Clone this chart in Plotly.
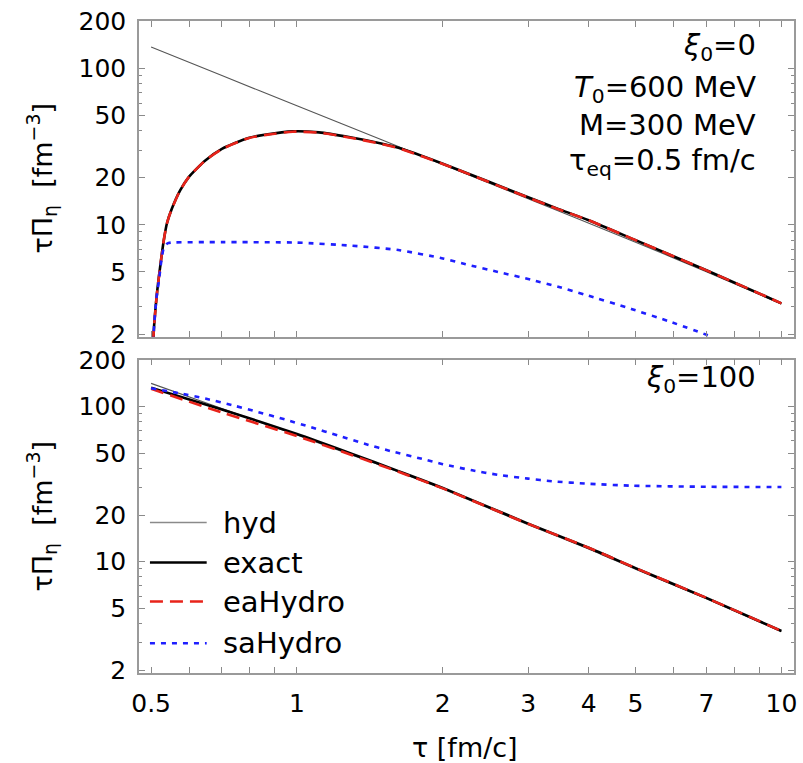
import plotly.graph_objects as go

# ---------------- data ----------------
# Top panel: xi0 = 0
tau_top_hyd = [0.5, 0.7, 1.0, 1.5, 2.0, 3.0, 5.0, 7.0, 10.0]
hyd_top = [137, 90, 57.7, 34.8, 24.3, 14.7, 7.75, 5.02, 3.12]

tau_top_exact = [0.5005, 0.503, 0.506, 0.514, 0.523, 0.531, 0.539, 0.552, 0.574, 0.598,
                 0.647, 0.70, 0.794, 0.864, 0.98, 1.11, 1.28, 1.5, 1.62, 2.0, 3.0,
                 3.46, 4.0, 5.0, 7.0, 10.0]
exact_top = [0.3, 1.0, 2.01, 3.62, 5.64, 7.94, 10.2, 12.7, 16.6, 20.2,
             25.8, 30.6, 35.9, 37.8, 39.6, 39.0, 36.4, 33.0, 31.1, 24.6, 15.0,
             12.65, 10.7, 7.98, 5.12, 3.15]
ea_top = [0.3, 1.0, 2.01, 3.62, 5.64, 7.94, 10.2, 12.7, 16.6, 20.2,
          25.8, 30.5, 35.8, 37.6, 39.4, 38.8, 36.2, 32.8, 30.9, 24.5, 14.95,
          12.6, 10.7, 7.98, 5.12, 3.15]

tau_top_sa = [0.5005, 0.506, 0.513, 0.519, 0.525, 0.531, 0.54, 0.55, 0.7, 1.0, 1.3, 1.62,
              2.0, 2.23, 2.6, 3.05, 3.46, 3.93, 4.9, 5.83, 7.05]
sa_top = [0.3, 2.0, 3.4, 4.4, 5.9, 7.1, 7.6, 7.7, 7.75, 7.7, 7.35, 6.9,
          6.1, 5.6, 5.0, 4.45, 4.02, 3.58, 2.9, 2.43, 1.97]

# Bottom panel: xi0 = 100
tau_bot = [0.5, 0.7, 1.0, 1.3, 1.615, 2.0, 3.0, 4.0, 5.0, 7.0, 10.0]
hyd_bot = [141, 97, 65.5, 48.6, 38.0, 29.4, 17.3, 12.1, 8.95, 5.78, 3.55]
exact_bot = [132, 95.8, 66.5, 49.5, 38.5, 29.9, 17.6, 12.3, 9.1, 5.85, 3.58]
ea_bot = [130, 91.5, 64.5, 48.6, 38.1, 29.7, 17.55, 12.3, 9.1, 5.85, 3.58]

tau_bot_sa = [0.5, 0.57, 0.647, 0.74, 0.833, 0.945, 1.07, 1.216, 1.38, 1.565,
              1.812, 2.0, 2.3, 2.6, 3.0, 3.36, 4.0, 4.9, 7.0, 10.0]
sa_bot = [131, 122, 112.5, 101.5, 92, 82.5, 73.5, 65.0, 57.5, 51.5,
          46.0, 42.5, 38.8, 36.3, 34.3, 33.0, 31.8, 30.9, 30.4, 30.3]

series_names = ["hyd", "exact", "eaHydro", "saHydro"]

x_tickvals = [0.5, 0.6, 0.7, 0.8, 0.9, 1, 2, 3, 4, 5, 6, 7, 8, 9, 10]
x_ticktext = ["0.5", "", "", "", "", "1", "2", "3", "4", "5", "", "7", "", "", "10"]
y_tickvals = [2, 5, 10, 20, 50, 100, 200]
y_ticktext = ["2", "5", "10", "20", "50", "100", "200"]
y_minor = [3, 4, 6, 7, 8, 9, 30, 40, 60, 70, 80, 90]

# ---------------- styles ----------------
FONT = "DejaVu Sans"
styles = {
    "hyd": dict(color="#555555", width=1.1),
    "exact": dict(color="#000000", width=2.6),
    "eaHydro": dict(color="#e8231a", width=2.6, dash="13px,7px"),
    "saHydro": dict(color="#1f1fff", width=2.6, dash="5px,6px"),
}

W, H = 803, 763
L, R, T, B = 139, 6, 21, 90
pw, ph = W - L - R, H - T - B

def px_x(px):
    return (px - L) / pw

def px_y(py):
    return (H - B - py) / ph

fig = go.Figure()

panels = [
    ("x", "y", tau_top_hyd, hyd_top, tau_top_exact, exact_top, tau_top_exact, ea_top, tau_top_sa, sa_top),
    ("x2", "y2", tau_bot, hyd_bot, tau_bot, exact_bot, tau_bot, ea_bot, tau_bot_sa, sa_bot),
]
for xa, ya, th, yh, te, ye, tea, yea, ts, ys in panels:
    for name, tx, ty in [("hyd", th, yh), ("exact", te, ye), ("eaHydro", tea, yea), ("saHydro", ts, ys)]:
        fig.add_trace(go.Scatter(x=tx, y=ty, mode="lines", name=name,
                                 line=dict(styles[name], shape="spline", smoothing=0.6),
                                 xaxis=xa, yaxis=ya, showlegend=False, hoverinfo="skip"))

axis_common = dict(type="log", showgrid=False, zeroline=False, showline=True,
                   linecolor="#9a9a9a", linewidth=1.5, mirror="allticks",
                   ticks="inside", tickcolor="#8a8a8a", tickwidth=1.2,
                   tickfont=dict(family=FONT, size=25, color="black"))

xr = [-0.326, 1.026]
yr = [0.283, 2.303]
top_dom = [px_y(337), 1.0]
bot_dom = [0.0, px_y(359.5)]

fig.update_layout(
    width=W, height=H, margin=dict(l=L, r=R, t=T, b=B),
    paper_bgcolor="white", plot_bgcolor="white",
    xaxis=dict(axis_common, range=xr, domain=[0, 1], anchor="y", tickvals=x_tickvals,
               ticktext=x_ticktext, showticklabels=False, ticklen=6),
    yaxis=dict(axis_common, range=yr, domain=top_dom, anchor="x", tickvals=y_tickvals,
               ticktext=y_ticktext, ticklen=6, ticklabelstandoff=6,
               minor=dict(tickvals=y_minor, ticklen=3, ticks="inside", tickcolor="#8a8a8a")),
    xaxis2=dict(axis_common, range=xr, domain=[0, 1], anchor="y2", tickvals=x_tickvals,
                ticktext=x_ticktext, ticklen=6, ticklabelstandoff=7),
    yaxis2=dict(axis_common, range=yr, domain=bot_dom, anchor="x2", tickvals=y_tickvals,
                ticktext=y_ticktext, ticklen=6, ticklabelstandoff=6,
                minor=dict(tickvals=y_minor, ticklen=3, ticks="inside", tickcolor="#8a8a8a")),
)

ann = []
def add_text(text, px, py, size=29, xanchor="right", yanchor="middle", angle=0):
    ann.append(dict(text=text, x=px_x(px), y=px_y(py), xref="paper", yref="paper",
                    xanchor=xanchor, yanchor=yanchor, showarrow=False, textangle=angle,
                    font=dict(family=FONT, size=size, color="black")))

# panel labels
add_text("<i>ξ</i><sub>0</sub>=0", 761, 47)
add_text("<i>T</i><sub>0</sub>=600 MeV", 761, 89)
add_text("M=300 MeV", 761, 125)
add_text("τ<sub>eq</sub>=0.5 fm/c", 761, 162)
add_text("<i>ξ</i><sub>0</sub>=100", 761, 379)

# axis titles
ytitle = "τΠ<sub>η</sub>  [fm<sup>−3</sup>]"
add_text(ytitle, 41, 178, size=27, xanchor="center", angle=-90)
add_text(ytitle, 41, 516, size=27, xanchor="center", angle=-90)
add_text("τ [fm/c]", 466, 748, size=27, xanchor="center")

# legend (drawn inside lower panel)
leg_y = [522.5, 562.5, 601.5, 643.3]
shapes = []
for name, ly in zip(series_names, leg_y):
    st = dict(styles[name])
    if name == "hyd":
        st = dict(color="#8a8a8a", width=1.3)
    shapes.append(dict(type="line", xref="paper", yref="paper",
                       x0=px_x(150), x1=px_x(207), y0=px_y(ly), y1=px_y(ly), line=st))
    add_text(name, 221, ly, size=29, xanchor="left")

fig.update_layout(annotations=ann, shapes=shapes)
fig.write_html("out.html")
